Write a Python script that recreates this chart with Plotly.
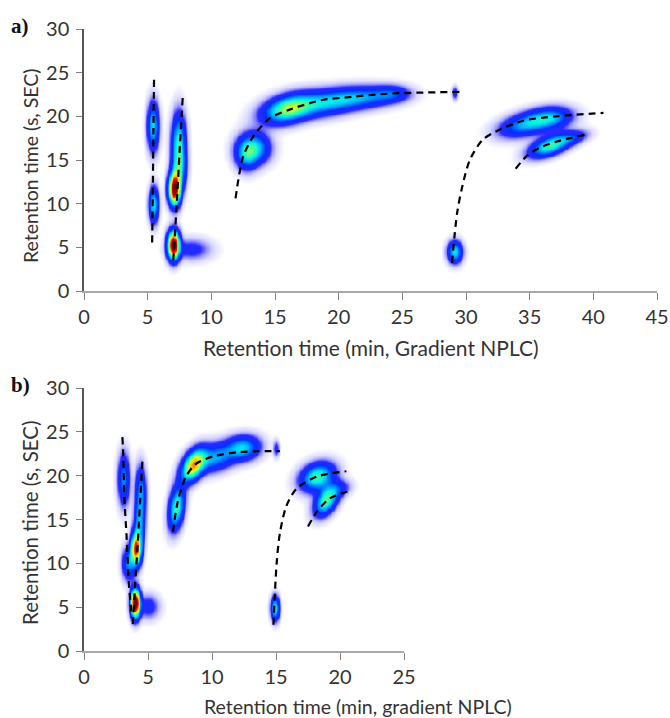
import numpy as np
import plotly.graph_objects as go

W, H = 670, 718
x_title_a = "Retention time (min, Gradient NPLC)"
x_title_b = "Retention time (min, gradient NPLC)"
y_title = "Retention time (s, SEC)"

# Peaks: centre x, centre y, width x, width y, height, tilt
a_cx = [5.4, 5.45, 7.0, 8.4, 7.07, 7.4, 7.45, 13.3, 12.7, 16.0, 19, 22, 24.2, 29.1, 29.1, 34.6, 36.6, 36.6, 38.4]
a_cy = [18.9, 9.9, 5.3, 4.8, 11.7, 17.0, 14, 16.4, 15.5, 20.9, 21.6, 22.2, 22.6, 22.7, 4.5, 19.1, 19.8, 16.7, 17.6]
a_sx = [.3, .25, .3, 1.0, .3, .36, .36, .8, .55, 1.3, 1.7, 1.7, .9, .16, .38, 1.3, 1.1, 1.05, .8]
a_sy = [1.8, 1.3, 1.05, .8, 1.2, 2.2, 1.5, 1.15, 1.1, 1.0, .95, .8, .6, .5, .8, .85, .8, .72, .5]
a_h = [.36, .38, 1.05, .13, 1.0, .4, .28, .38, .22, .5, .3, .25, .16, .14, .38, .3, .3, .44, .14]
a_t = [0, 0, 0, 0, 0, 0, 0, 0, 0, .3, .2, .1, 0, 0, 0, .3, .15, .45, .3]

b_cx = [3.07, 4.4, 4.3, 4.04, 3.45, 3.98, 5.0, 7.2, 8.5, 10.2, 12.4, 15.0, 14.9, 18.2, 18.9, 19.9]
b_cy = [19.6, 18.2, 14.5, 11.7, 10, 5.5, 5.1, 16.4, 21.2, 22.1, 23.2, 23.1, 4.9, 19.9, 17.2, 18.5]
b_sx = [.3, .28, .28, .27, .32, .24, .55, .4, .6, 1.05, .85, .15, .22, .85, .6, .6]
b_sy = [1.9, 1.9, 1.7, 1.2, 1.2, 1.05, .9, 1.55, 1.05, 1.0, .9, .6, .9, 1.0, 1.0, .6]
b_h = [.28, .28, .28, .8, .28, 1.1, .14, .45, .65, .3, .34, .13, .4, .45, .47, .13]
b_t = [0, 0, 0, 0, 0, 0, 0, 1.2, .9, .3, .1, 0, 0, .3, .8, .3]

# Dashed guide curves
a_curves = [
    ([5.5, 5.45, 5.4, 5.35], [24.2, 18, 11, 5.3]),
    ([7.75, 7.5, 7.3, 7.0], [22.1, 15.8, 10.4, 3.2]),
    ([11.9, 12.5, 13.3, 14.6, 16.2, 18.8, 20.1, 24, 29.5], [10.6, 15.4, 17.7, 19.8, 20.8, 21.9, 22.1, 22.6, 22.8]),
    ([28.9, 29.3, 29.7, 30.3, 31.3, 32.4, 34.5, 37.1, 40.8], [3.2, 8.9, 11.9, 15, 17.3, 18.3, 19.5, 20, 20.4]),
    ([33.9, 34.8, 35.8, 37.1, 39.4], [14, 15.5, 16.4, 17.1, 17.9]),
]
b_curves = [
    ([3.0, 3.07, 3.15, 3.33, 3.52, 3.75], [24.4, 22.2, 17.6, 13, 7.3, 4.0]),
    ([4.56, 4.38, 4.2, 3.98, 3.8], [21.6, 16.9, 12.3, 7.3, 2.6]),
    ([6.95, 7.35, 8.0, 8.8, 10.1, 12.2, 15.3], [13.6, 17.2, 20, 21.4, 22.2, 22.7, 22.8]),
    ([14.8, 15.05, 15.3, 15.8, 16.6, 18.2, 20.5], [3, 10, 13.4, 16.5, 18.5, 19.9, 20.5]),
    ([17.5, 18.2, 19.2, 20.8], [14.2, 15.9, 17.4, 18.3]),
]

colorscale = [
    [0.0, "#ffffff"], [0.003, "#ffffff"], [0.012, "#ecebff"], [0.03, "#d6d4ff"], [0.06, "#9a98ff"],
    [0.1, "#2a2aff"], [0.2, "#0030ff"], [0.3, "#00a0ff"], [0.38, "#00eeee"],
    [0.48, "#50ff90"], [0.58, "#e0ff20"], [0.68, "#ffc000"], [0.78, "#ff2000"],
    [0.9, "#b00000"], [1.0, "#7a0000"],
]


def surface(xmax, ymax, step, cx, cy, sx, sy, h, t):
    xs = np.arange(0, xmax + step, step)
    ys = np.arange(0, ymax + step, step)
    X, Y = np.meshgrid(xs, ys)
    Z = np.zeros_like(X)
    for i in range(len(cx)):
        dx = X - cx[i]
        dy = Y - cy[i] - t[i] * dx
        Z = Z + h[i] * np.exp(-0.5 * ((dx / sx[i]) ** 2 + (dy / sy[i]) ** 2))
    return xs, ys, np.round(np.clip(Z, 0, 1), 3)


fig = go.Figure()
panels = [
    ("", 45, a_cx, a_cy, a_sx, a_sy, a_h, a_t, a_curves),
    ("2", 25, b_cx, b_cy, b_sx, b_sy, b_h, b_t, b_curves),
]
for suffix, xmax, cx, cy, sx, sy, h, t, curves in panels:
    xs, ys, zs = surface(xmax, 30, 0.1, cx, cy, sx, sy, h, t)
    fig.add_trace(go.Heatmap(x=xs, y=ys, z=zs, zmin=0, zmax=1, zsmooth="best", colorscale=colorscale,
                             showscale=False, hoverinfo="skip", xaxis="x" + suffix, yaxis="y" + suffix))
    for cxs, cys in curves:
        fig.add_trace(go.Scatter(x=cxs, y=cys, mode="lines", showlegend=False,
                                 line=dict(color="#000000", width=2.2, dash="7px,5px", shape="spline", smoothing=0.8),
                                 xaxis="x" + suffix, yaxis="y" + suffix))

tick_font = dict(family="Lato", size=20, color="#333333")
x_common = dict(showgrid=False, zeroline=False, showline=True, linecolor="#a8a8a8", linewidth=1.5,
                ticks="outside", ticklen=7, tickcolor="#808080", tickfont=tick_font, dtick=5)
y_common = dict(showgrid=False, zeroline=False, showline=True, linecolor="#555555", linewidth=1.5,
                ticks="outside", ticklen=6, tickcolor="#808080", tickfont=tick_font, dtick=5, range=[0, 30],
                ticklabelstandoff=3)


def dom(a, b, size):
    return [a / size, b / size]


fig.update_layout(
    width=W, height=H, margin=dict(l=0, r=0, t=0, b=0, pad=0, autoexpand=False),
    paper_bgcolor="white", plot_bgcolor="white", showlegend=False,
    xaxis=dict(x_common, domain=dom(84, 657, W), range=[0, 45], anchor="y"),
    yaxis=dict(y_common, domain=dom(H - 291, H - 29, H), anchor="x"),
    xaxis2=dict(x_common, domain=dom(84, 404, W), range=[0, 25], anchor="y2"),
    yaxis2=dict(y_common, domain=dom(H - 651, H - 388, H), anchor="x2"),
)


def label(text, px, py, size=18, angle=0, family="Lato", color="#333333"):
    fig.add_annotation(text=text, x=px / W, y=1 - py / H, xref="paper", yref="paper", showarrow=False,
                       xanchor="center", yanchor="middle", textangle=angle,
                       font=dict(family=family, size=size, color=color))


label(x_title_a, 371, 347, size=21)
label(x_title_b, 358, 706, size=19.5)
label(y_title, 30, 166, size=19.5, angle=-90)
label(y_title, 30, 523, size=20.5, angle=-90)
label("<b>a)</b>", 20, 26, size=21, family="Liberation Serif", color="#111111")
label("<b>b)</b>", 20, 385, size=21, family="Liberation Serif", color="#111111")

fig.write_html("out.html", config={"displayModeBar": False}, post_script="document.body.style.margin='0';")
